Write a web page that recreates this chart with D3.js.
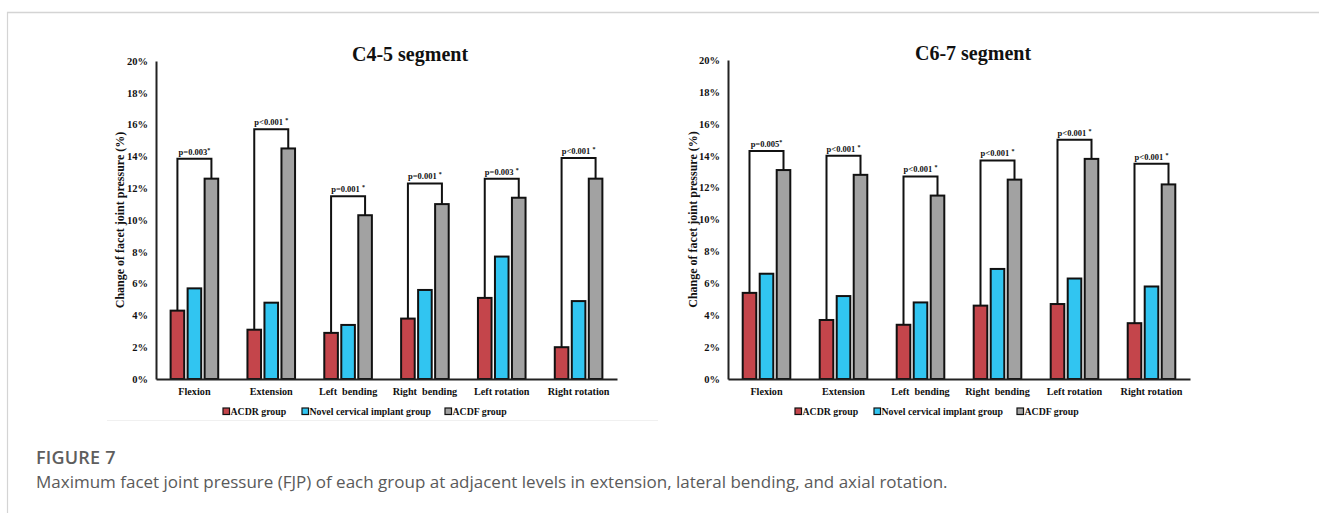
<!DOCTYPE html>
<html>
<head>
<meta charset="utf-8">
<script src="https://cdn.jsdelivr.net/npm/d3@7"></script>
<style>
  html, body { margin: 0; padding: 0; background: #fff; }
  svg { display: block; }
  .serif { font-family: "Liberation Serif", "Times New Roman", serif; font-weight: bold; fill: #111; }
</style>
</head>
<body>
<svg id="fig" width="1319" height="513"></svg>
<script>
// Motion categories along the x axis
const motions = ["Flexion", "Extension", "Left  bending", "Right  bending", "Left rotation", "Right rotation"];
const groups = ["ACDR group", "Novel cervical implant group", "ACDF group"];
const groupColors = ["#C4454B", "#31C5F1", "#A2A2A2"];
const yTicks = [0, 2, 4, 6, 8, 10, 12, 14, 16, 18, 20];

// C4-5 segment: change of facet joint pressure (%)
const c45Acdr  = [4.3, 3.1, 2.9, 3.8, 5.1, 2.0];
const c45Novel = [5.7, 4.8, 3.4, 5.6, 7.7, 4.9];
const c45Acdf  = [12.6, 14.5, 10.3, 11.0, 11.4, 12.6];
const c45BracketLevel = [13.85, 15.7, 11.5, 12.3, 12.6, 13.9];
const c45P = ["p=0.003", "p<0.001 ", "p=0.001 ", "p=0.001 ", "p=0.003 ", "p<0.001 "];

// C6-7 segment
const c67Acdr  = [5.4, 3.7, 3.4, 4.6, 4.7, 3.5];
const c67Novel = [6.6, 5.2, 4.8, 6.9, 6.3, 5.8];
const c67Acdf  = [13.1, 12.8, 11.5, 12.5, 13.8, 12.2];
const c67BracketLevel = [14.3, 14.0, 12.7, 13.7, 15.0, 13.5];
const c67P = ["p=0.005", "p<0.001 ", "p<0.001 ", "p<0.001 ", "p<0.001 ", "p<0.001 "];

const svg = d3.select("#fig");

// Page frame
svg.append("line").attr("x1", 7).attr("x2", 1319).attr("y1", 12.5).attr("y2", 12.5)
  .attr("stroke", "#d4d4d4").attr("stroke-width", 1.5);
svg.append("line").attr("x1", 7.5).attr("x2", 7.5).attr("y1", 12).attr("y2", 513)
  .attr("stroke", "#d4d4d4").attr("stroke-width", 1.2);
svg.append("line").attr("x1", 107).attr("x2", 658).attr("y1", 420.5).attr("y2", 420.5)
  .attr("stroke", "#f0f0f0").attr("stroke-width", 1);

function drawPanel(cfg) {
  const { title, left, right, top, bottom, acdr, novel, acdf, bracket, pLabels, titleX, ylabelX, legendX } = cfg;
  const g = svg.append("g");
  const series = [acdr, novel, acdf];

  const x0 = d3.scaleBand().domain(motions).range([left, right]).padding(0);
  const half = 25.5;
  const x1 = d3.scaleBand().domain(groups)
    .range([x0.bandwidth() / 2 - half, x0.bandwidth() / 2 + half])
    .paddingInner(0.2).paddingOuter(0.1);
  const y = d3.scaleLinear().domain([0, 20]).range([bottom, top]);

  // Title
  g.append("text").attr("class", "serif").attr("x", titleX).attr("y", top)
    .attr("text-anchor", "middle").attr("font-size", 20).text(title);

  // Y axis
  const yAxis = d3.axisLeft(y).tickValues(yTicks).tickSize(0).tickPadding(8)
    .tickFormat(d => d + "%");
  const ya = g.append("g").attr("transform", `translate(${left},0)`).call(yAxis);
  ya.select(".domain").attr("stroke", "#222").attr("stroke-width", 2);
  ya.selectAll("text").attr("class", "serif").attr("font-size", 10.5)
    .attr("font-family", null).attr("fill", "#111");

  // Y label
  g.append("text").attr("class", "serif")
    .attr("transform", `translate(${ylabelX},${(top + bottom) / 2}) rotate(-90)`)
    .attr("text-anchor", "middle").attr("font-size", 12)
    .text("Change of facet joint pressure (%)");

  // Bars
  groups.forEach((grp, si) => {
    g.append("g").selectAll("rect").data(motions).join("rect")
      .attr("x", m => x0(m) + x1(grp))
      .attr("y", (m, i) => y(series[si][i]))
      .attr("width", x1.bandwidth())
      .attr("height", (m, i) => y(0) - y(series[si][i]))
      .attr("fill", groupColors[si])
      .attr("stroke", "#111").attr("stroke-width", 2);
  });

  // Significance brackets ACDR vs ACDF
  motions.forEach((m, i) => {
    const xa = x0(m) + x1(groups[0]) + x1.bandwidth() / 2;
    const xc = x0(m) + x1(groups[2]) + x1.bandwidth() / 2;
    const yb = y(bracket[i]);
    g.append("path")
      .attr("d", `M${xa},${y(acdr[i])}V${yb}H${xc}V${y(acdf[i])}`)
      .attr("fill", "none").attr("stroke", "#111").attr("stroke-width", 2);
    const t = g.append("text").attr("class", "serif")
      .attr("x", (xa + xc) / 2).attr("y", yb - 4)
      .attr("text-anchor", "middle").attr("font-size", 8.5);
    t.append("tspan").text(pLabels[i]);
    t.append("tspan").attr("font-size", 6).attr("dy", -3).text("*");
  });

  // X axis
  const xAxis = d3.axisBottom(x0).tickSize(0).tickPadding(9);
  const xa = g.append("g").attr("transform", `translate(0,${bottom})`).call(xAxis);
  xa.select(".domain").attr("stroke", "#222").attr("stroke-width", 2);
  xa.selectAll("text").attr("class", "serif").attr("font-size", 10.2)
    .attr("font-family", null).attr("fill", "#111")
    .style("white-space", "pre");

  // Legend
  const offsets = [0, 79, 222];
  const lg = g.append("g").attr("transform", `translate(${legendX},${bottom + 36})`);
  groups.forEach((grp, si) => {
    const it = lg.append("g").attr("transform", `translate(${offsets[si]},0)`);
    it.append("rect").attr("x", 0).attr("y", -7).attr("width", 6.5).attr("height", 6.5)
      .attr("fill", groupColors[si]).attr("stroke", "#111").attr("stroke-width", 1.2);
    it.append("text").attr("class", "serif").attr("x", 7.5).attr("y", 0)
      .attr("font-size", 9.8).text(grp);
  });
}

drawPanel({
  title: "C4-5 segment", left: 156, right: 617, top: 61, bottom: 379,
  acdr: c45Acdr, novel: c45Novel, acdf: c45Acdf, bracket: c45BracketLevel, pLabels: c45P,
  titleX: 410, ylabelX: 124, legendX: 223
});
drawPanel({
  title: "C6-7 segment", left: 728, right: 1190, top: 60, bottom: 379,
  acdr: c67Acdr, novel: c67Novel, acdf: c67Acdf, bracket: c67BracketLevel, pLabels: c67P,
  titleX: 973, ylabelX: 697, legendX: 795
});

// Figure caption
svg.append("text").attr("x", 36).attr("y", 464)
  .attr("font-family", "'Open Sans', sans-serif").attr("font-size", 18)
  .attr("font-weight", 600).attr("letter-spacing", 0.2)
  .attr("fill", "#5e5e5e").text("FIGURE 7");
svg.append("text").attr("x", 36).attr("y", 488)
  .attr("font-family", "'Open Sans', sans-serif").attr("font-size", 17)
  .attr("fill", "#5a5a5a")
  .text("Maximum facet joint pressure (FJP) of each group at adjacent levels in extension, lateral bending, and axial rotation.");
</script>
</body>
</html>
